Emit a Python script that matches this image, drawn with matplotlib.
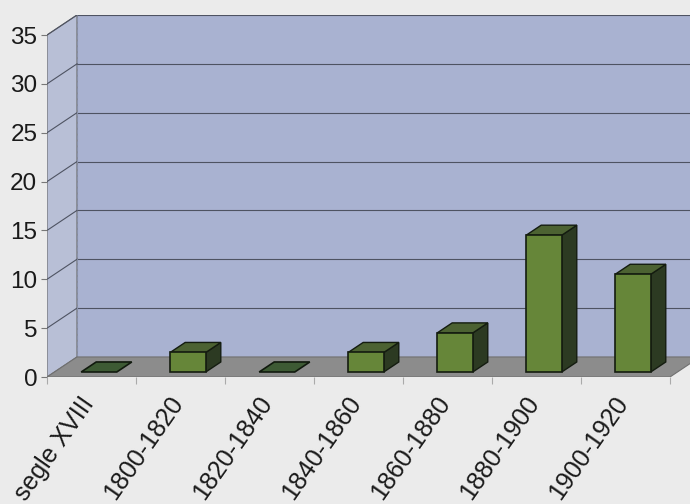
import matplotlib.pyplot as plt
import matplotlib.transforms as mtransforms
from matplotlib.patches import Polygon

periodes = ['segle XVIII', '1800-1820', '1820-1840', '1840-1860',
            '1860-1880', '1880-1900', '1900-1920']
valors = [0, 2, 0, 2, 4, 14, 10]
ticks_y = [0, 5, 10, 15, 20, 25, 30, 35]

# profunditat de l'efecte 3D (en unitats de dades)
DX = 0.337
DY = 2.05
AMPLE = 0.40
F1, F2 = 0.25, 0.75

plt.rcParams['font.family'] = ['Liberation Sans', 'DejaVu Sans']

fig = plt.figure(figsize=(6.9, 5.04), dpi=100)
fig.patch.set_facecolor('#ebebeb')
ax = fig.add_axes([47 / 690, 127 / 504, 643 / 690, 362 / 504])
ax.set_xlim(-0.5, 6.725)
ax.set_ylim(0, 37.05)
ax.set_facecolor('none')
for s in ax.spines.values():
    s.set_visible(False)

n = len(periodes)
x0, x1 = -0.5, n - 0.5
ymax = ticks_y[-1]

# parets i terra
ax.add_patch(Polygon([(x0 + DX, DY), (x1 + 2, DY), (x1 + 2, ymax + DY), (x0 + DX, ymax + DY)],
                     closed=True, fc='#a9b2d1', ec='none', zorder=1))
ax.add_patch(Polygon([(x0, 0), (x0 + DX, DY), (x0 + DX, ymax + DY), (x0, ymax)],
                     closed=True, fc='#b8bfd6', ec='#6a6a6a', lw=0.8, zorder=1))
ax.add_patch(Polygon([(x0, 0), (x1, 0), (x1 + DX, DY), (x0 + DX, DY)],
                     closed=True, fc='#8c8c8c', ec='#707070', lw=0.8, zorder=2))

# linies de graella
for v in ticks_y[1:]:
    ax.plot([x0 + DX, x1 + 2], [v + DY, v + DY], color='#4e5362', lw=0.8, zorder=1.5)
    ax.plot([x0, x0 + DX], [v, v + DY], color='#4e5362', lw=0.8, zorder=1.5)
ax.plot([x0 + DX, x0 + DX], [DY, ymax + DY], color='#8890a8', lw=0.8, ls='--', zorder=1.5)

# barres
for i, h in enumerate(valors):
    xl = i - AMPLE / 2
    xr = i + AMPLE / 2
    a = (F1 * DX, F1 * DY)
    b = (F2 * DX, F2 * DY)
    top = [(xl + a[0], h + a[1]), (xr + a[0], h + a[1]),
           (xr + b[0], h + b[1]), (xl + b[0], h + b[1])]
    if h == 0:
        ax.add_patch(Polygon(top, closed=True, fc='#3d5a34', ec='#111a0e', lw=1.2, zorder=3))
        continue
    front = [(xl + a[0], a[1]), (xr + a[0], a[1]), (xr + a[0], h + a[1]), (xl + a[0], h + a[1])]
    side = [(xr + a[0], a[1]), (xr + b[0], b[1]), (xr + b[0], h + b[1]), (xr + a[0], h + a[1])]
    ax.add_patch(Polygon(side, closed=True, fc='#2c3a22', ec='#141c10', lw=1.0, zorder=3))
    ax.add_patch(Polygon(top, closed=True, fc='#4c6232', ec='#141c10', lw=1.0, zorder=3))
    ax.add_patch(Polygon(front, closed=True, fc='#668639', ec='#141c10', lw=1.2, zorder=3))

ax.set_yticks(ticks_y)
ax.set_yticklabels([str(v) for v in ticks_y], fontsize=17.5, color='#1a1a1a')
ax.tick_params(axis='y', length=4, width=0.8, color='#777777', pad=3)

ax.set_xticks(range(n))
ax.set_xticklabels(periodes, rotation=55, ha='right', va='top',
                   rotation_mode='anchor', fontsize=18, color='#1a1a1a')
ax.tick_params(axis='x', which='major', length=0, pad=11)
desplac = mtransforms.ScaledTranslation(-12 / 100, 0, fig.dpi_scale_trans)
for lbl in ax.get_xticklabels():
    lbl.set_transform(lbl.get_transform() + desplac)
ax.set_xticks([k - 0.5 for k in range(n + 1)], minor=True)
ax.tick_params(axis='x', which='minor', length=5, width=0.8, color='#aaaaaa')

fig.savefig('out.png', dpi=100, facecolor=fig.get_facecolor())
